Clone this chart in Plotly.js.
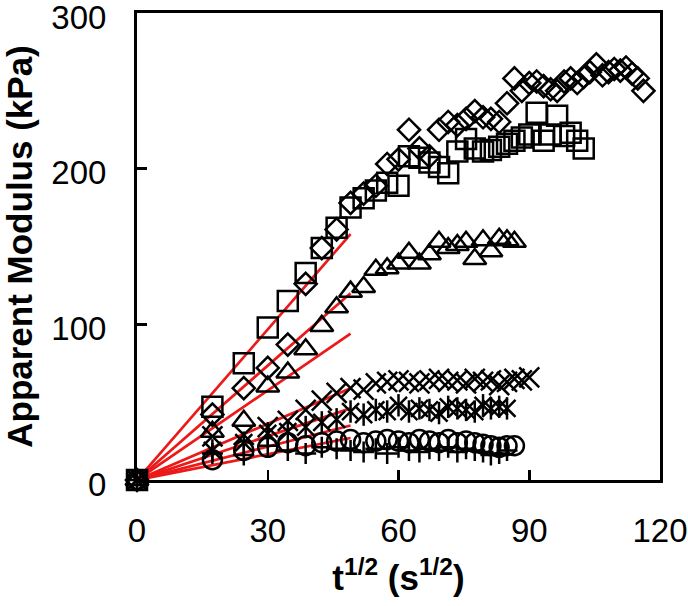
<!DOCTYPE html>
<html>
<head>
<meta charset="utf-8">
<script src="https://cdn.plot.ly/plotly-3.0.1.min.js"></script>
<style>html,body{margin:0;padding:0;background:#fff;}#chart{width:688px;height:606px;}</style>
</head>
<body>
<div id="chart"></div>
<script>
// t^(1/2) sampling (s^(1/2))
const tHalf = [0, 17.3, 24.5, 30, 34.6, 38.7, 42.4, 45.8, 49, 52, 54.8, 57.4, 60, 62.4, 64.8, 67.1,
  69.3, 71.4, 73.5, 75.5, 77.5, 79.4, 81.2, 83.1, 84.9, 86.6, 88.3, 90, 91.7, 93.3, 94.9, 96.4,
  98, 99.5, 101, 102.5, 103.9, 105.4, 106.8, 108.2, 109.5, 110.9, 112.2, 113.6, 114.9, 116.2];

// Apparent modulus (kPa)
const diamondVals = [0, 42, 59, 72, 87, 126, 149, 161, 178, 184, 189, 203, 206, 225, 213, 208,
  225, 230, 228, 232, 237, 233, 232, 230, 242, 258, 250, 255, 256, 253, 251, 250,
  256, 258, 255, 259, 262, 267, 260, 262, 264, 263, 265, 261, 258, 250];
const squareVals = [0, 47, 75, 98, 115, 133, 149, 162, 175, 181, 186, 191, 189, 208, 207, 204,
  201, 197, 211, 219, 213, 211, 212, 214, 216, 218, 220, 222, 236, 218, 222, 234,
  221, 223, 218, 213];
const triangleVals = [0, 31, 38, 60, 69, 84, 99, 111, 121, 124, 135, 136, 139, 146, 139, 145,
  153, 149, 151, 153, 142, 154, 147, 155, 154, 153];
const crossXVals = [0, 28, 29, 34, 38, 45, 51, 56, 59, 58, 62, 63, 64, 63, 62, 64,
  65, 63, 64, 62, 65, 63, 64, 61, 63, 65, 64, 66];
const asteriskVals = [0, 19, 24, 30, 31, 34, 37, 39, 44, 42, 45, 44, 48, 44, 46, 45,
  43, 47, 46, 45, 44, 48, 46, 47, 46];
const plusVals = [0, 17, 16, 22, 19, 17, 21, 20, 19, 18, 20, 17, 21, 19, 18, 20,
  19, 21, 18, 20, 19, 18, 16, 17, 19];
const circleVals = [0, 13, 19, 21, 24, 22, 24, 25, 26, 24, 25, 26, 25, 24, 26, 25,
  24, 26, 24, 25, 24, 23, 22, 21, 22, 22];

// Linear fits through origin: end point of each fit line
const fitX = [0, 49];
const fitEnds = [158, 120, 94, 59, 46, 35, 27];

const xTicks = [0, 30, 60, 90, 120];
const yTicks = [0, 100, 200, 300];

const traces = [];
fitEnds.forEach(function (e) {
  traces.push({
    x: fitX, y: [0, e], mode: 'lines', type: 'scatter', showlegend: false,
    line: {color: 'rgb(235,25,25)', width: 2.7}, hoverinfo: 'skip'
  });
});

// asterisk-like marker = x + vertical bar (two symbols drawn on same points)
const series = [
  {y: diamondVals, symbol: 'diamond-open', size: 17},
  {y: squareVals, symbol: 'square-open', size: 20},
  {y: triangleVals, symbol: 'triangle-up-open', size: 20},
  {y: crossXVals, symbol: 'x-thin-open', size: 20},
  {y: asteriskVals, symbol: 'x-thin-open', size: 17},
  {y: asteriskVals, symbol: 'line-ns-open', size: 16},
  {y: plusVals, symbol: 'cross-thin-open', size: 15},
  {y: circleVals, symbol: 'circle-open', size: 19}
];
series.forEach(function (s) {
  traces.push({
    x: tHalf.slice(0, s.y.length), y: s.y, mode: 'markers', type: 'scatter',
    showlegend: false, cliponaxis: false,
    marker: {symbol: s.symbol, size: s.size, color: '#000', line: {color: '#000', width: 2.5}}
  });
});

const font = 'Arial, "Liberation Sans", sans-serif';
const layout = {
  width: 688, height: 606,
  margin: {l: 137, r: 28, t: 13, b: 126},
  paper_bgcolor: '#fff', plot_bgcolor: '#fff',
  font: {family: font, color: '#000'},
  showlegend: false,
  xaxis: {
    range: [0, 120], tickvals: xTicks, ticktext: xTicks.map(String),
    ticks: 'inside', ticklen: 10, tickwidth: 2.5, tickcolor: '#000',
    showline: true, linewidth: 3, linecolor: '#000', mirror: true,
    showgrid: false, zeroline: false,
    tickfont: {size: 33, family: font, color: '#000'},
    ticklabelstandoff: 19, ticklabeloverflow: 'allow',
    title: {text: '<b>t<sup>1/2</sup> (s<sup>1/2</sup>)</b>', font: {size: 35, family: font, color: '#000'}, standoff: 18}
  },
  yaxis: {
    range: [0, 300], tickvals: yTicks, ticktext: yTicks.map(String),
    ticks: 'inside', ticklen: 10, tickwidth: 2.5, tickcolor: '#000',
    showline: true, linewidth: 3, linecolor: '#000', mirror: true,
    showgrid: false, zeroline: false,
    tickfont: {size: 33, family: font, color: '#000'},
    ticklabelstandoff: 21, ticklabeloverflow: 'allow', ticklabelshift: 4,
    title: {text: '<b>Apparent Modulus (kPa)</b>', font: {size: 35, family: font, color: '#000'}, standoff: 26}
  }
};

Plotly.newPlot('chart', traces, layout, {staticPlot: true, displayModeBar: false});
</script>
</body>
</html>
